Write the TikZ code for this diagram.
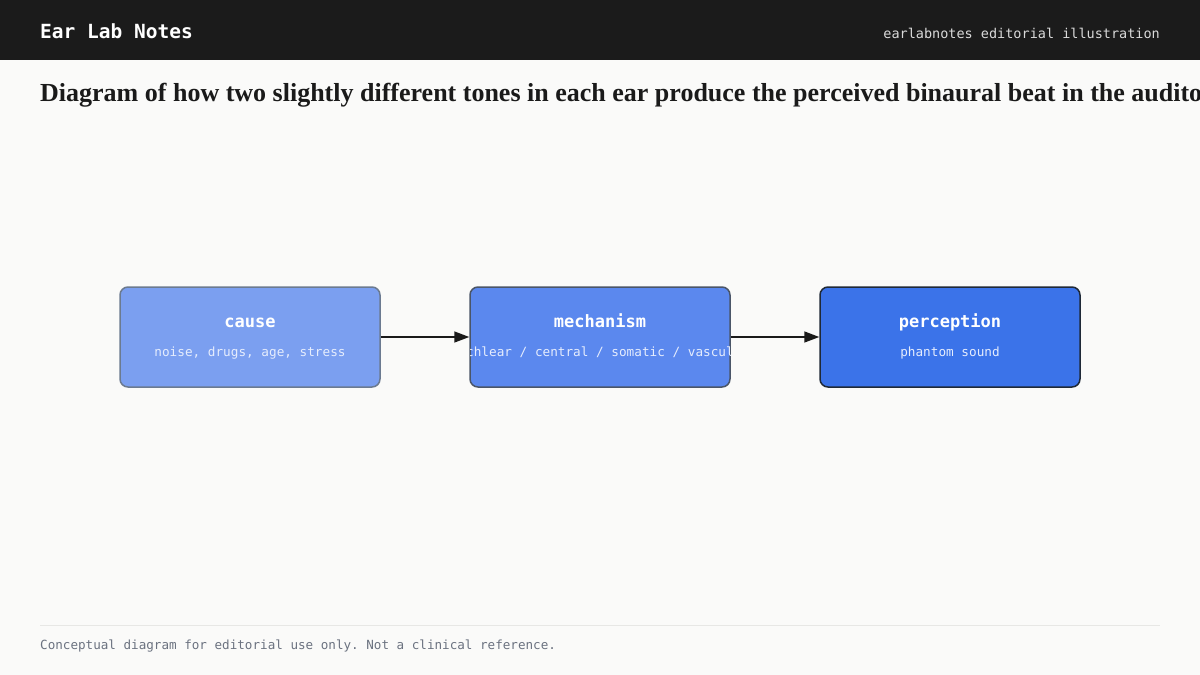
\documentclass[tikz,border=0pt]{standalone}
\usepackage{fontspec}
\setmainfont{Liberation Serif}
\setmonofont{DejaVu Sans Mono}
\usetikzlibrary{arrows.meta, positioning}

\definecolor{pagebg}{HTML}{FAFAF9}
\definecolor{barbg}{HTML}{1B1B1B}
\definecolor{tagink}{HTML}{DADADA}
\definecolor{titleink}{HTML}{1A1A1A}
\definecolor{causefill}{HTML}{7B9FF0}
\definecolor{causeline}{HTML}{6B7A90}
\definecolor{mechfill}{HTML}{5B88EE}
\definecolor{mechline}{HTML}{4A5568}
\definecolor{percfill}{HTML}{3B73E9}
\definecolor{percline}{HTML}{1F2937}
\definecolor{subink}{HTML}{E6EDFD}
\definecolor{arrowink}{HTML}{1A1A1A}
\definecolor{footink}{HTML}{6B7280}
\definecolor{footrule}{HTML}{E7E7E5}

\begin{document}
\begin{tikzpicture}[x=1pt, y=-1pt, node distance=88.5pt,
  stage/.style={draw, line width=1.5pt, rounded corners=8pt, minimum width=260pt, minimum height=100pt, inner sep=0pt},
  stagetitle/.style={anchor=base, text=white, font=\ttfamily\bfseries\fontsize{17}{20}\selectfont},
  stagesub/.style={anchor=base, text=subink, font=\ttfamily\fontsize{12.7}{15}\selectfont},
  flow/.style={-{Triangle[length=15pt, width=11pt]}, line width=1.5pt, draw=arrowink}]
    % Canvas
    \clip (0,0) rectangle (1200,675);
    \fill[pagebg] (0,0) rectangle (1200,675);
    \fill[barbg] (0,0) rectangle (1200,60);
    \node[anchor=base west, inner sep=0pt, text=white, font=\ttfamily\bfseries\fontsize{19.5}{22}\selectfont] (brand) at (40,38) {Ear Lab Notes};
    \node[anchor=base east, inner sep=0pt, text=tagink, font=\ttfamily\fontsize{13.5}{16}\selectfont] (tag) at (1160,38) {earlabnotes editorial illustration};
    \node[anchor=base west, inner sep=0pt, text=titleink, font=\bfseries\fontsize{26}{30}\selectfont] (title) at (40,101) {Diagram of how two slightly different tones in each ear produce the perceived binaural beat in the auditory brainstem};

    % Stages
    \node[stage, fill=causefill, draw=causeline] (cause) at (250,337) {};
    \node[stage, fill=mechfill, draw=mechline, right=of cause] (mech) {};
    \node[stage, fill=percfill, draw=percline, right=of mech] (percep) {};
    \draw[flow] (cause) -- (mech);
    \draw[flow] (mech) -- (percep);

    \node[stagetitle] (causetitle) at ([yshift=10pt]cause.center) {cause};
    \node[stagesub] (causesub) at ([yshift=-19pt]cause.center) {noise, drugs, age, stress};
    \node[stagetitle] (mechtitle) at ([yshift=10pt]mech.center) {mechanism};
    \begin{scope}
        \clip[rounded corners=8pt] (mech.south west) rectangle (mech.north east);
        \node[stagesub] (mechsub) at ([yshift=-19pt]mech.center) {cochlear / central / somatic / vascular};
    \end{scope}
    \node[stagetitle] (perceptitle) at ([yshift=10pt]percep.center) {perception};
    \node[stagesub] (percepsub) at ([yshift=-19pt]percep.center) {phantom sound};

    % Footer
    \draw[footrule, line width=1pt] (40,625) -- (1160,625);
    \node[anchor=base west, inner sep=0pt, text=footink, font=\ttfamily\fontsize{12.6}{15}\selectfont] (note) at (40,649) {Conceptual diagram for editorial use only. Not a clinical reference.};
\end{tikzpicture}
\end{document}
